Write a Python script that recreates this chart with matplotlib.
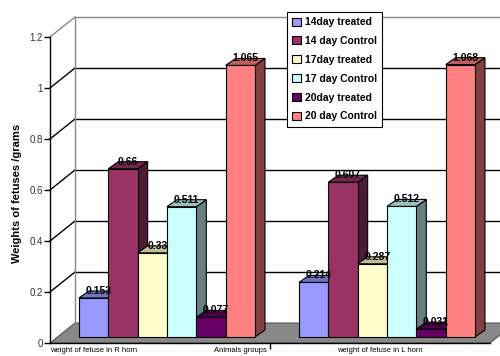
import matplotlib.pyplot as plt
from matplotlib.patches import Polygon, Patch

plt.rcParams['font.family'] = ['Liberation Sans', 'DejaVu Sans']

series = ['14day treated', '14 day Control', '17day treated',
          '17 day Control', '20day treated', '20 day Control']
colors = ['#9999FF', '#993366', '#FFFFCC', '#CCFFFF', '#660066', '#FF8080']
r_horn = [0.153, 0.66, 0.33, 0.511, 0.077, 1.065]
l_horn = [0.214, 0.607, 0.287, 0.512, 0.031, 1.068]
categories = ['weight of fetuse in R horn', 'weight of fetuse in L horn']
x_title = 'Animals groups'
y_title = 'Weights of fetuses /grams'
yticks = [0, 0.2, 0.4, 0.6, 0.8, 1, 1.2]


def shade(c, k):
    r, g, b = [int(c[i:i + 2], 16) / 255 for i in (1, 3, 5)]
    return (r * k, g * k, b * k)


fig = plt.figure(figsize=(5, 3.56), dpi=100)
ax = fig.add_axes([0.1, 13 / 356, 0.88, 306 / 356])
ax.set_xlim(0, 2)
ax.set_ylim(0, 1.2)

# pixel sizes in data units
px = 2 / 440
py = 1.2 / 306
wall_dx, wall_dy = 25 * px, 20 * py
bar_dx, bar_dy = 10 * px, 7 * py
base = 6 * py
width = 29.33 * px
start = 29 * px

# floor
ax.add_patch(Polygon([(0, 0), (2, 0), (2 + wall_dx, wall_dy), (wall_dx, wall_dy)],
                     closed=True, facecolor='#888888', edgecolor='#555555',
                     lw=0.8, clip_on=False, zorder=1))

# walls and gridlines
for v in yticks[1:]:
    c = '#888888' if v == 1.2 else 'black'
    ax.plot([0, wall_dx], [v, v + wall_dy], color=c, lw=1, clip_on=False, zorder=1)
    ax.plot([wall_dx, 2.3], [v + wall_dy, v + wall_dy], color=c, lw=1,
            clip_on=False, zorder=1)
ax.plot([wall_dx, wall_dx], [wall_dy, 1.2 + wall_dy], color='#888888', lw=1,
        clip_on=False, zorder=1)

# bars with fake depth
z = 2
for g, vals in enumerate([r_horn, l_horn]):
    for i, v in enumerate(vals):
        x0 = g + start + i * width
        x1 = x0 + width
        top = v + base
        ax.add_patch(Polygon([(x1, base), (x1 + bar_dx, base + bar_dy),
                              (x1 + bar_dx, top + bar_dy), (x1, top)],
                             closed=True, facecolor=shade(colors[i], 0.5),
                             edgecolor='black', lw=0.8, clip_on=False, zorder=z))
        ax.add_patch(Polygon([(x0, top), (x1, top), (x1 + bar_dx, top + bar_dy),
                              (x0 + bar_dx, top + bar_dy)],
                             closed=True, facecolor=shade(colors[i], 0.75),
                             edgecolor='black', lw=0.8, clip_on=False, zorder=z))
        ax.bar(x0, v, width, bottom=base, align='edge', color=colors[i],
               edgecolor='black', lw=0.8, zorder=z + 0.5)
        z += 1
        ax.text(x0 + width / 2 + bar_dx / 2, top + bar_dy, f'{v:g}',
                ha='center', va='center', fontsize=7.5, fontweight='bold',
                zorder=50)

# axes styling
for s in ['top', 'right']:
    ax.spines[s].set_visible(False)
ax.spines['left'].set_linewidth(1)
ax.spines['bottom'].set_linewidth(1)
ax.spines['left'].set_zorder(30)
ax.spines['bottom'].set_zorder(30)
ax.set_yticks(yticks)
ax.set_yticklabels([f'{t:g}' for t in yticks])
ax.tick_params(axis='y', length=4, width=1, labelsize=7, labelcolor='#333333', pad=1)
ax.set_xticks([1.0])
ax.set_xticklabels([''])
ax.tick_params(axis='x', length=4, width=1)

# category labels
lab_y = -4.5 * py
ax.text(0, lab_y, categories[0], ha='left', va='top', fontsize=5.5, clip_on=False)
ax.text(164 * px, lab_y, x_title, ha='left', va='top', fontsize=5.5, clip_on=False)
ax.text(287 * px, lab_y, categories[1], ha='left', va='top', fontsize=5.5,
        clip_on=False)

fig.text(17 / 500, 1 - 193 / 356, y_title, rotation=90, ha='center', va='center',
         fontsize=8, fontweight='bold')

handles = [Patch(facecolor=c, edgecolor='black', lw=0.8) for c in colors]
leg = fig.legend(handles, series, loc='upper left',
                 bbox_to_anchor=(287 / 500, 1 - 12 / 356),
                 prop={'weight': 'bold', 'size': 7.5}, frameon=True,
                 fancybox=False, edgecolor='black', framealpha=1,
                 handlelength=0.8, handleheight=0.8, handletextpad=0.4,
                 labelspacing=0.85, borderpad=0.5, borderaxespad=0)
leg.get_frame().set_linewidth(0.8)

fig.savefig('out.png', dpi=100)
